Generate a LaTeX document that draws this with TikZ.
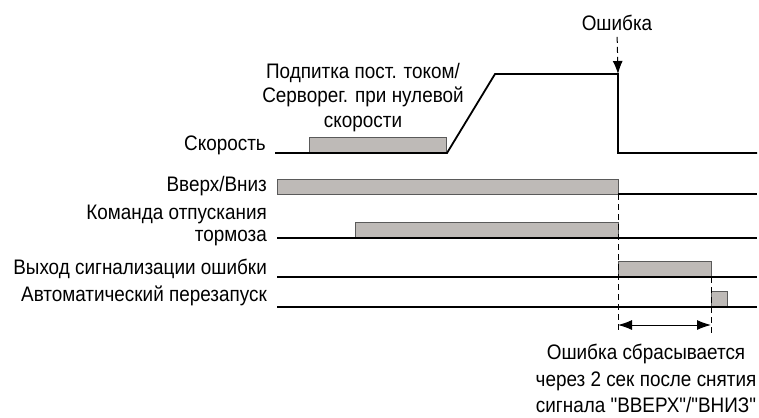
\documentclass[tikz,border=0pt]{standalone}
\usepackage{fontspec}
\setmainfont{Liberation Sans}[FakeStretch=0.9, Ligatures=TeXOff]
\usetikzlibrary{arrows.meta}
\definecolor{boxfill}{RGB}{190,186,183}
\definecolor{boxedge}{RGB}{90,90,90}
\begin{document}
\begin{tikzpicture}[x=1bp,y=-1bp,
  lbl/.style={inner sep=0pt, font=\fontsize{21bp}{24.5bp}\selectfont},
  sig/.style={draw=black, line width=1.2bp},
  spd/.style={draw=black, line width=1.8bp, line join=miter},
  pulse/.style={draw=boxedge, fill=boxfill, line width=1bp},
  marker/.style={draw=black, line width=1bp, dash pattern=on 6bp off 4bp},
  tipend/.style={-{Latex[length=13bp,width=10bp]}},
  dimarrow/.style={{Latex[length=14bp,width=10bp]}-{Latex[length=14bp,width=10bp]}, draw=black, line width=1bp}
]
\useasboundingbox (0,0) rectangle (759,417);

% speed signal
\draw[pulse] (309,153) rectangle (446,137);
\draw[spd] (275,153) -- (447,153) -- (495,74) -- (618,74) -- (618,153) -- (757,153);

% Up/Down
\draw[pulse] (277,179) rectangle (618,194);
\draw[sig] (618,194) -- (757,194);
% brake release
\draw[pulse] (355,222) rectangle (618,238);
\draw[sig] (277,238) -- (757,238);
% fault output
\draw[pulse] (618,261) rectangle (711,277);
\draw[sig] (277,277) -- (757,277);
% auto restart
\draw[pulse] (711,291) rectangle (727,307);
\draw[sig] (277,307) -- (757,307);

% labels
\node[lbl, anchor=base] (err) at (617,30.5) {Ошибка};
\node[lbl, anchor=base, align=center] (dcinj) at (363,127) {Подпитка пост. током/\\Серворег. при нулевой\\скорости};
\node[lbl, anchor=base east] (speedlbl) at (266,150) {Скорость};
\node[lbl, anchor=base east] (updown) at (267,191) {Вверх/Вниз};
\node[lbl, anchor=base east, align=right, font=\fontsize{21bp}{22bp}\selectfont] (brake) at (267,241) {Команда отпускания\\тормоза};
\node[lbl, anchor=base east] (faultout) at (267,274) {Выход сигнализации ошибки};
\node[lbl, anchor=base east] (autorst) at (267,301.5) {Автоматический перезапуск};
\node[lbl, anchor=base, align=center, font=\fontsize{21bp}{26.5bp}\selectfont] (note) at (646,412.5) {Ошибка сбрасывается\\через 2 сек после снятия\\сигнала "ВВЕРХ"/"ВНИЗ"};

% markers
\coordinate (drop) at (618,74);
\coordinate (m1top) at (618,194);
\coordinate (m1bot) at (618,334);
\coordinate (m2top) at (711,277);
\coordinate (m2bot) at (711,334);
\coordinate (dimL) at (618,325);
\coordinate (dimR) at (711,325);
\draw[marker, tipend, shorten <=6bp] (err.south) -- (drop);
\draw[marker] (m1top) -- (m1bot);
\draw[marker] (m2top) -- (m2bot);
\draw[dimarrow] (dimL) -- (dimR);
\end{tikzpicture}
\end{document}
